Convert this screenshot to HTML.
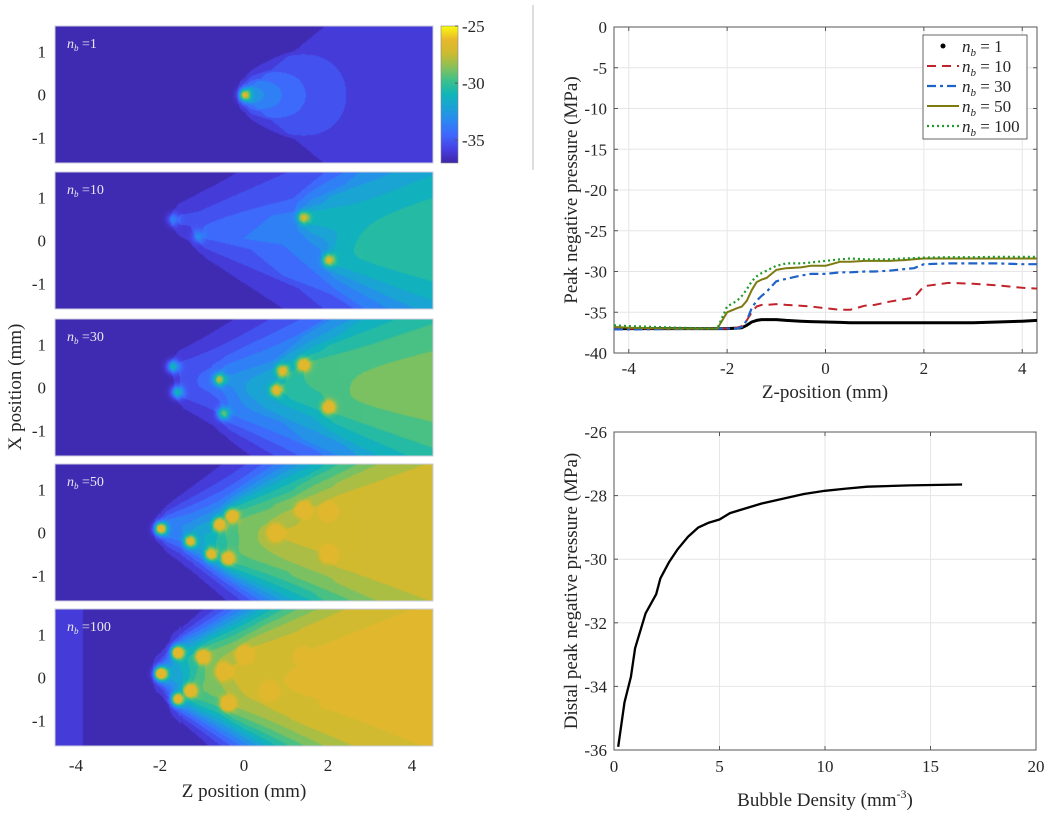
<!DOCTYPE html>
<html><head><meta charset="utf-8">
<style>
body{margin:0;background:#fff;width:1050px;height:819px;overflow:hidden;position:relative;font-family:"Liberation Serif",serif}
svg{position:absolute;left:0;top:0}
canvas{position:absolute}
text{font-family:"Liberation Serif",serif;fill:#262626}
</style></head>
<body>
<div id="hm"></div>
<svg id="s" width="1050" height="819"></svg>
<script>
// ---------- Data: line chart (top right) ----------
const zPos=[-4.3,-4,-3,-2.2,-2,-1.8,-1.7,-1.6,-1.5,-1.4,-1.3,-1.2,-1,-0.8,-0.5,-0.3,0,0.3,0.5,0.8,1,1.3,1.6,1.8,2,2.5,3,3.5,4,4.3];
const pn1=[-37,-37,-37,-37,-37,-36.95,-36.9,-36.6,-36.2,-36.0,-35.9,-35.9,-35.9,-36.0,-36.1,-36.15,-36.2,-36.25,-36.3,-36.3,-36.3,-36.3,-36.3,-36.3,-36.3,-36.3,-36.3,-36.2,-36.1,-36.0];
const pn10=[-37,-37,-37,-37,-37,-36.9,-36.7,-36.0,-35.0,-34.3,-34.1,-34.1,-34.0,-34.1,-34.2,-34.3,-34.5,-34.7,-34.7,-34.2,-34.1,-33.7,-33.4,-33.2,-31.8,-31.4,-31.5,-31.7,-32.0,-32.1];
const pn30=[-37.1,-37.1,-37.05,-37,-37,-37.0,-36.8,-36.0,-34.5,-33.6,-33.0,-32.5,-31.2,-30.9,-30.5,-30.3,-30.3,-30.1,-30.1,-30.0,-30.0,-29.9,-29.7,-29.6,-29.1,-29.0,-29.0,-29.0,-29.1,-29.1];
const pn50=[-36.8,-36.9,-37,-37,-35.0,-34.5,-34.3,-33.6,-32.3,-31.3,-31.0,-30.8,-29.8,-29.6,-29.5,-29.3,-29.3,-28.8,-28.8,-28.7,-28.7,-28.7,-28.6,-28.5,-28.4,-28.4,-28.4,-28.4,-28.4,-28.4];
const pn100=[-36.6,-36.7,-36.9,-37,-34.3,-33.6,-33.0,-32.2,-31.2,-30.6,-30.2,-29.9,-29.3,-29.0,-29.0,-28.9,-28.7,-28.5,-28.4,-28.5,-28.5,-28.5,-28.4,-28.35,-28.3,-28.25,-28.25,-28.2,-28.2,-28.2];
const lineXTicks=[-4,-2,0,2,4];
const lineYTicks=[0,-5,-10,-15,-20,-25,-30,-35,-40];
const legendLabels=["1","10","30","50","100"];
// ---------- Data: density chart (bottom right) ----------
const density=[0.2,0.5,0.8,1,1.5,2,2.2,2.6,3,3.5,4,4.5,5,5.5,6,7,8,9,10,11,12,14,16.5];
const distalP=[-35.9,-34.5,-33.7,-32.8,-31.7,-31.1,-30.6,-30.1,-29.7,-29.3,-29.0,-28.85,-28.75,-28.55,-28.45,-28.25,-28.1,-27.95,-27.85,-27.78,-27.72,-27.68,-27.65];
const densXTicks=[0,5,10,15,20];
const densYTicks=[-26,-28,-30,-32,-34,-36];
// ---------- Data: heatmap bubbles (z mm, x mm, weight) ----------
const panelNb=["1","10","30","50","100"];
const panelBase=[-37,-37,-37,-37,-37];
const bubZ=[[0],[-1.7,-1.1,1.4,2.0],[-1.7,-1.6,-0.6,-0.5,0.75,0.9,1.4,2.0],[-2.0,-1.3,-0.8,-0.6,-0.4,-0.3,0.75,1.4,2.0,2.0],[-2.0,-1.6,-1.6,-1.3,-1.0,-0.5,-0.4,0,0.6,1.4,2.0,2.0,2.0]];
const bubX=[[0],[0.5,0.1,0.55,-0.45],[0.5,-0.1,0.2,-0.6,-0.05,0.4,0.55,-0.45],[0.1,-0.2,-0.5,0.2,-0.6,0.4,0.0,0.55,-0.5,0.5],[0.1,0.6,-0.5,-0.3,0.5,0.15,-0.6,0.55,-0.3,0.5,0.3,0.1,-0.5]];
const bubW=[[1.4],[0.7,0.6,1.6,1.6],[1.0,1.0,1.2,1.1,1.2,1.2,1.3,1.3],[2.0,1.4,1.4,1.5,1.5,1.4,1.5,1.5,1.5,1.5],[2.4,2.0,1.8,1.6,1.6,1.7,1.7,1.7,1.6,1.6,1.6,1.6,1.6]];
const cbTicks=[-25,-30,-35];

const NS="http://www.w3.org/2000/svg";
const S=document.getElementById('s');
function el(tag,attrs,parent,txt){const e=document.createElementNS(NS,tag);for(const k in attrs)e.setAttribute(k,attrs[k]);if(txt!==undefined)e.textContent=txt;(parent||S).appendChild(e);return e;}

let sep=el('line',{x1:533,y1:5,x2:533,y2:170,stroke:'#bbb','stroke-width':1});



// ---------- Top-right line chart ----------
const L={l:614,r:1037,t:27,b:353,x0:-4.3,x1:4.3,y0:-40,y1:0};
const lx=v=>L.l+(v-L.x0)/(L.x1-L.x0)*(L.r-L.l);
const ly=v=>L.b-(v-L.y0)/(L.y1-L.y0)*(L.b-L.t);
const g1=el('g',{});


el('rect',{x:L.l,y:L.t,width:L.r-L.l,height:L.b-L.t,fill:'#fff'},g1);
lineXTicks.forEach(t=>{const x=lx(t);el('line',{x1:x,x2:x,y1:L.t,y2:L.b,stroke:'#e6e6e6'},g1);
 el('line',{x1:x,x2:x,y1:L.b,y2:L.b-4,stroke:'#555'},g1);el('line',{x1:x,x2:x,y1:L.t,y2:L.t+4,stroke:'#555'},g1);
 const tx=el('text',{x:x,y:L.b+21,'text-anchor':'middle','font-size':17},g1,String(t));
 });
lineYTicks.forEach(t=>{const y=ly(t);el('line',{x1:L.l,x2:L.r,y1:y,y2:y,stroke:'#e6e6e6'},g1);
 el('line',{x1:L.l,x2:L.l+4,y1:y,y2:y,stroke:'#555'},g1);el('line',{x1:L.r,x2:L.r-4,y1:y,y2:y,stroke:'#555'},g1);
 const tx=el('text',{x:L.l-7,y:y+6,'text-anchor':'end','font-size':17},g1,String(t));
 });
el('rect',{x:L.l,y:L.t,width:L.r-L.l,height:L.b-L.t,fill:'none',stroke:'#555','stroke-width':1},g1);
const seriesList=[[pn1,'#000',3,''],[pn10,'#c0232b',2,'9,6'],[pn30,'#1f62c8',2.2,'9,4,3,4'],[pn50,'#7d7a10',2,''],[pn100,'#1e9a2a',2.2,'2,3']];
const snames=['series-nb-1','series-nb-10','series-nb-30','series-nb-50','series-nb-100'];
seriesList.forEach((s,i)=>{const d=s[0].map((v,k)=>(k?'L':'M')+lx(zPos[k]).toFixed(1)+','+ly(v).toFixed(1)).join('');
 const p=el('path',{d:d,fill:'none',stroke:s[1],'stroke-width':s[2],'stroke-dasharray':s[3],'stroke-linejoin':'round'},g1);
 });
const lineTitle=el('text',{x:825,y:398,'text-anchor':'middle','font-size':19},g1,'Z-position (mm)');

const lyt=el('text',{x:0,y:0,'text-anchor':'middle','font-size':19,transform:'translate(577,190) rotate(-90)'},g1,'Peak negative pressure (MPa)');

const lg=el('g',{},g1);

el('rect',{x:923,y:35,width:104,height:104,fill:'#fff',stroke:'#666'},lg);
legendLabels.forEach((lab,i)=>{const y=46+i*20;const s=seriesList[i];
 if(i===0){el('circle',{cx:943,cy:y,r:2.5,fill:'#000'},lg);}
 else el('line',{x1:927,x2:959,y1:y,y2:y,stroke:s[1],'stroke-width':s[2],'stroke-dasharray':s[3]},lg);
 const t=el('text',{x:962,y:y+6,'font-size':17},lg);
 
 el('tspan',{'font-style':'italic'},t,'n');el('tspan',{'font-size':11,'font-style':'italic',dy:4},t,'b');
 el('tspan',{dy:-4},t,' = '+lab);});

// ---------- Bottom-right density chart ----------
const D={l:614,r:1036,t:432,b:750,x0:0,x1:20,y0:-36,y1:-26};
const dx=v=>D.l+(v-D.x0)/(D.x1-D.x0)*(D.r-D.l);
const dy=v=>D.b-(v-D.y0)/(D.y1-D.y0)*(D.b-D.t);
const g2=el('g',{});

densXTicks.forEach(t=>{const x=dx(t);el('line',{x1:x,x2:x,y1:D.t,y2:D.b,stroke:'#e6e6e6'},g2);
 el('line',{x1:x,x2:x,y1:D.b,y2:D.b-4,stroke:'#555'},g2);el('line',{x1:x,x2:x,y1:D.t,y2:D.t+4,stroke:'#555'},g2);
 const tx=el('text',{x:x,y:D.b+22,'text-anchor':'middle','font-size':17},g2,String(t));
 });
densYTicks.forEach(t=>{const y=dy(t);el('line',{x1:D.l,x2:D.r,y1:y,y2:y,stroke:'#e6e6e6'},g2);
 el('line',{x1:D.l,x2:D.l+4,y1:y,y2:y,stroke:'#555'},g2);el('line',{x1:D.r,x2:D.r-4,y1:y,y2:y,stroke:'#555'},g2);
 const tx=el('text',{x:D.l-7,y:y+6,'text-anchor':'end','font-size':17},g2,String(t));
 });
el('rect',{x:D.l,y:D.t,width:D.r-D.l,height:D.b-D.t,fill:'none',stroke:'#555'},g2);
const dp=el('path',{d:density.map((v,k)=>(k?'L':'M')+dx(v).toFixed(1)+','+dy(distalP[k]).toFixed(1)).join(''),fill:'none',stroke:'#000','stroke-width':2.3,'stroke-linejoin':'round'},g2);

const dxt=el('text',{x:825,y:806,'text-anchor':'middle','font-size':19},g2);

el('tspan',{},dxt,'Bubble Density (mm');el('tspan',{'font-size':12,dy:-8},dxt,'-3');el('tspan',{dy:8},dxt,')');
const dyt=el('text',{x:0,y:0,'text-anchor':'middle','font-size':19,transform:'translate(577,591) rotate(-90)'},g2,'Distal peak negative pressure (MPa)');


// ---------- Heatmaps ----------
const parula=[[62,38,168],[70,63,226],[64,101,252],[44,133,244],[28,160,216],[15,181,185],[60,192,140],[136,193,89],[205,186,48],[232,184,44],[249,251,14]];
function cmap(v){let t=(v+37)/12;t=Math.max(0,Math.min(0.999,t));const f=t*(parula.length-1);const i=Math.floor(f),r=f-i;
 const a=parula[i],b=parula[i+1];return [a[0]+(b[0]-a[0])*r,a[1]+(b[1]-a[1])*r,a[2]+(b[2]-a[2])*r];}
const HX={l:55,r:433,z0:-4.5,z1:4.5};
const panelTop=[26,172,319,464,609],panelH=137;
const satDiv=[2.5,4.5,6.5,4.5,4];
const hmDiv=document.getElementById('hm');
panelNb.forEach((nb,p)=>{
 const top=panelTop[p];const w=HX.r-HX.l,h=panelH;
 const c=document.createElement('canvas');c.width=w;c.height=h;c.style.left=HX.l+'px';c.style.top=top+'px';
 
 
 hmDiv.appendChild(c);
 const ctx=c.getContext('2d');const img=ctx.createImageData(w,h);
 for(let j=0;j<h;j++){const xm=1.6-j/h*3.2;
  for(let i=0;i<w;i++){const zm=HX.z0+i/w*(HX.z1-HX.z0);let S=0,hot=0;
   for(let b=0;b<bubZ[p].length;b++){const dz=zm-bubZ[p][b],dxm=xm-bubX[p][b],W=bubW[p][b];
    const r2=dz*dz+dxm*dxm;hot=Math.max(hot,W*Math.exp(-r2/0.02));
    if(dz>-0.2){const sg=0.22+0.36*Math.max(dz,0);const rise=Math.min(1,(dz+0.2)/0.35);
     S+=W*rise*Math.exp(-dxm*dxm/(2*sg*sg))*(p===0?Math.exp(-Math.max(dz,0)/1.2):1);}}
   let base=panelBase[p];
   const ax=Math.abs(xm);
   if(zm>-0.1+1.25*ax) base+=0.7;
   if(p>=1 && zm>0.8+1.2*ax) base+=0.6;
   if(p===4){ if(zm<-3.85) base+=0.6; else if(zm<-1.5) base+=0.3; }
   let v=base+(-26.5-base)*(1-Math.exp(-S/satDiv[p]));
   v=Math.round(v/0.8)*0.8;
   v=Math.min(-26.5,v+hot*(p===1?3.5:5));
   const col=cmap(v);const k=(j*w+i)*4;img.data[k]=col[0];img.data[k+1]=col[1];img.data[k+2]=col[2];img.data[k+3]=255;}}
 ctx.putImageData(img,0,0);
 const lab=el('text',{x:HX.l+12,y:top+22,'font-size':14,style:'fill:#e8e8f0'});
 
 el('tspan',{'font-style':'italic'},lab,'n');el('tspan',{'font-size':9,'font-style':'italic',dy:3},lab,'b');el('tspan',{dy:-3},lab,' ='+nb);
 [1,0,-1].forEach(t=>{const y=top+h/2-t*43;const tt=el('text',{x:46,y:y+6,'text-anchor':'end','font-size':17},S,String(t));
  });
 el('rect',{x:HX.l,y:top,width:w,height:h,fill:'none',stroke:'#ccd','stroke-width':1});
});
const hzx=v=>HX.l+(v-HX.z0)/(HX.z1-HX.z0)*(HX.r-HX.l);
[-4,-2,0,2,4].forEach(t=>{const tt=el('text',{x:hzx(t),y:771,'text-anchor':'middle','font-size':17},S,String(t));
 });
const hxt=el('text',{x:244,y:797,'text-anchor':'middle','font-size':19},S,'Z position (mm)');

const hyt=el('text',{x:0,y:0,'text-anchor':'middle','font-size':19,transform:'translate(21,387) rotate(-90)'},S,'X position (mm)');

const cb=el('g',{});
const defs=el('defs',{},S);const gr=el('linearGradient',{id:'pg',x1:0,y1:1,x2:0,y2:0},defs);
parula.forEach((c,i)=>el('stop',{offset:i/(parula.length-1),'stop-color':'rgb('+c.join(',')+')'},gr));
el('rect',{x:441,y:26,width:17,height:137,fill:'url(#pg)',stroke:'#888','stroke-width':0.6},cb);
const cby=v=>163-(v+37)/12*137;
cbTicks.forEach(t=>{const y=cby(t);el('line',{x1:455,x2:458,y1:y,y2:y,stroke:'#555'},cb);
 const tt=el('text',{x:462,y:y+6,'font-size':17},cb,String(t));});
</script>
</body></html>
